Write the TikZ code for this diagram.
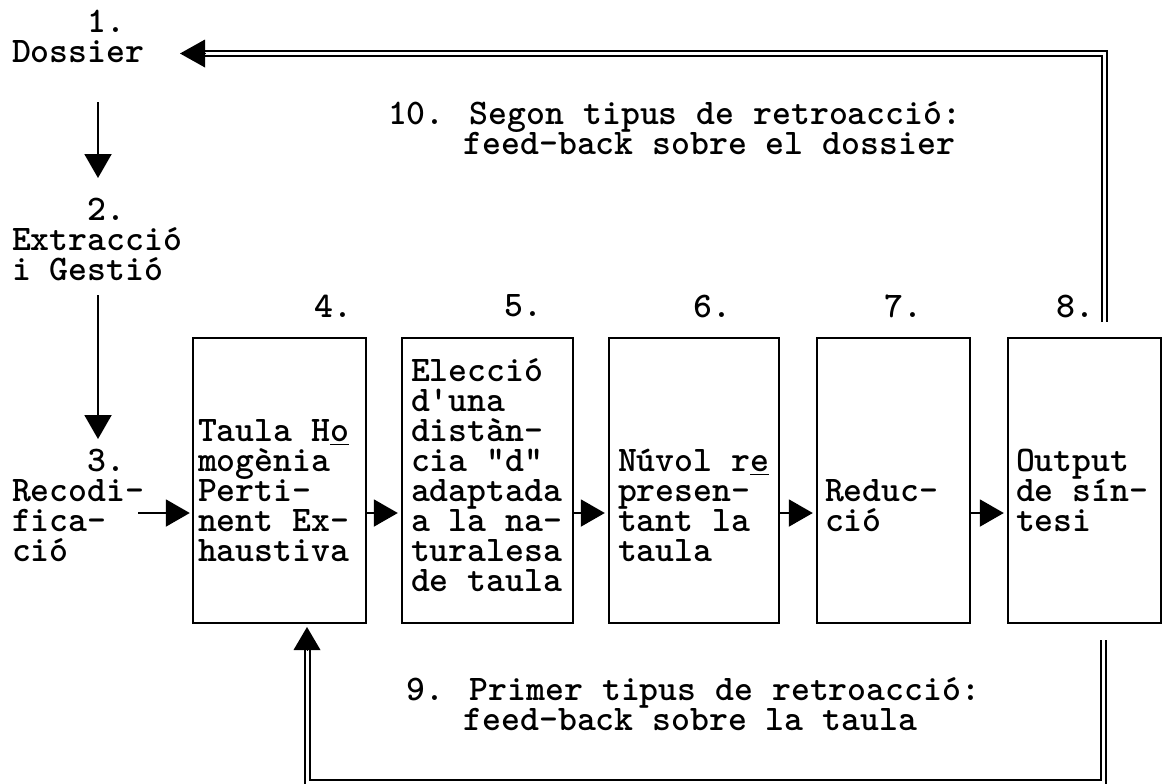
\documentclass[tikz,border=0pt]{standalone}
\usepackage{fontspec}
\usetikzlibrary{arrows.meta}
\newfontfamily\cour{lmmonolt10-bold.otf}[Ligatures=TeXOff]
\newcommand\St{\rule[-5pt]{0pt}{19pt}}
\lineskiplimit=-100pt
\begin{document}
\lineskiplimit=-100pt
\begin{tikzpicture}[x=0.5pt,y=-0.5pt,
  txt/.style={font={\cour\fontsize{18}{15}\selectfont\lineskiplimit=-100pt\relax}, inner sep=0pt, outer sep=0pt, align=left, anchor=west},
  lbl/.style={font={\cour\fontsize{18}{15}\selectfont}, inner sep=0pt},
  box/.style={draw, line width=1.2pt, inner sep=0pt, minimum height=142.5pt},
  arr/.style={line width=1pt, -{Triangle[length=12pt,width=13.5pt]}},
  dbl/.style={double, double distance=1.5pt, line width=1pt},
]
\useasboundingbox (0,0) rectangle (1166,783);
\fill[white] (0,0) rectangle (1166,783);

% left column
\node[txt] (n1) at (12,38) {\St\phantom{0000}1.\\Dossier\St};
\node[txt] (n2) at (12,241) {\St\phantom{0000}2.\\Extracci\'o\\i Gesti\'o\St};
\node[txt] (n3) at (12,507.5) {\St\phantom{0000}3.\\Recodi-\\fica-\\ci\'o\St};

% boxes
\node[box, minimum width=86.5pt] (b4) at (279.5,480.5) {};
\node[box, minimum width=85.5pt] (b5) at (487.5,480.5) {};
\node[box, minimum width=85pt]   (b6) at (694,480.5) {};
\node[box, minimum width=76.5pt] (b7) at (893.5,480.5) {};
\node[box, minimum width=76.5pt] (b8) at (1084.5,480.5) {};

% box texts
\node[txt] (t4) at (198,492) {\St Taula H\underline{o}\\mog\`enia\\Perti-\\nent Ex-\\haustiva\St};
\node[txt] (t5) at (411,477) {\St Elecci\'o\\d'una\\dist\`an-\\cia "d"\\adaptada\\a la na-\\turalesa\\de taula\St};
\node[txt] (t6) at (618,507) {\St N\'uvol r\underline{e}\\presen-\\tant la\\taula\St};
\node[txt] (t7) at (825,507) {\St Reduc-\\ci\'o\St};
\node[txt] (t8) at (1016,492) {\St Output\\de s\'in-\\tesi\St};

% numbers
\node[lbl] (l4) at (333,306) {4.};
\node[lbl] (l5) at (523,306) {5.};
\node[lbl] (l6) at (712,306) {6.};
\node[lbl] (l7) at (903,306) {7.};
\node[lbl] (l8) at (1075,306) {8.};

% feedback texts
\node[txt] (f10) at (388,130.5) {\St 10. Segon tipus de retroacci\'o:\\\phantom{0000}feed-back sobre el dossier\St};
\node[txt] (f9) at (388,706) {\St\phantom{0}9. Primer tipus de retroacci\'o:\\\phantom{0000}feed-back sobre la taula\St};

% vertical arrows left
\coordinate (d1a) at (98,102);
\coordinate (d1b) at (98,178);
\coordinate (d2a) at (98,295);
\coordinate (d2b) at (98,439);
\draw[arr] (d1a) -- (d1b);
\draw[arr] (d2a) -- (d2b);

% horizontal arrows
\coordinate (row) at (0,513);
\coordinate (r3) at (138,513);
\draw[arr, shorten >=1pt] (r3) -- (b4.west |- row);
\draw[arr, shorten >=1.5pt] (b4.east |- row) -- (b5.west |- row);
\draw[arr, shorten >=1.5pt] (b5.east |- row) -- (b6.west |- row);
\draw[arr, shorten >=1.5pt] (b6.east |- row) -- (b7.west |- row);
\draw[arr, shorten >=1.5pt] (b7.east |- row) -- (b8.west |- row);

% top feedback loop
\coordinate (ta) at (1104.5,322);
\coordinate (tb) at (205,53.5);
\coordinate (tt) at (180,53.5);
\draw[dbl] (ta) |- (tb);
\draw[line width=0pt, -{Triangle[length=12.5pt,width=14pt]}] (tb) -- (tt);

% bottom feedback loop
\coordinate (ba) at (1103.5,640);
\coordinate (bb) at (307,650);
\coordinate (bc) at (307,782.5);
\coordinate (bt) at (307,627);
\draw[dbl] (ba) |- (bc) -- (bb);
\draw[line width=0pt, -{Triangle[length=11.5pt,width=13.5pt]}] (bb) -- (bt);
\end{tikzpicture}
\end{document}
